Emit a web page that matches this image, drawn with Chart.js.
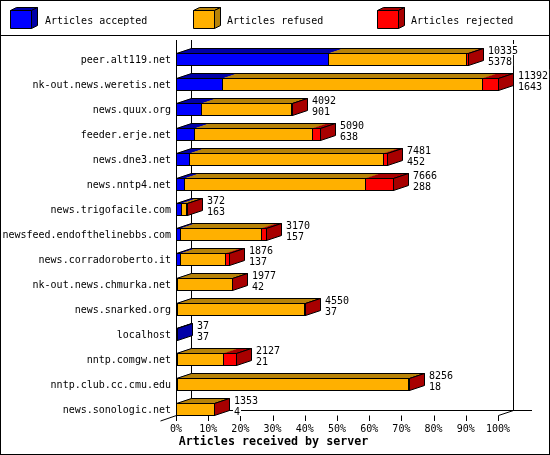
<!DOCTYPE html>
<html>
<head>
<meta charset="utf-8">
<style>
  html, body { margin: 0; padding: 0; background: #fff; }
  canvas { display: block; }
</style>
<script src="https://cdn.jsdelivr.net/npm/chart.js@4"></script>
</head>
<body>
<canvas id="graphCanvas" width="550" height="455"></canvas>
<script>
// Data
const servers = ['peer.alt119.net', 'nk-out.news.weretis.net', 'news.quux.org', 'feeder.erje.net',
  'news.dne3.net', 'news.nntp4.net', 'news.trigofacile.com', 'newsfeed.endofthelinebbs.com',
  'news.corradoroberto.it', 'nk-out.news.chmurka.net', 'news.snarked.org', 'localhost',
  'nntp.comgw.net', 'nntp.club.cc.cmu.edu', 'news.sonologic.net'];
const totals   = [10335, 11392, 4092, 5090, 7481, 7666, 372, 3170, 1876, 1977, 4550, 37, 2127, 8256, 1353];
const accepted = [5378, 1643, 901, 638, 452, 288, 163, 157, 137, 42, 37, 37, 21, 18, 4];
const refused  = [4887, 9179, 3156, 4168, 6889, 6383, 204, 2838, 1599, 1930, 4503, 0, 1646, 8203, 1340];
const rejected = [70, 570, 35, 284, 140, 995, 5, 175, 140, 5, 10, 0, 460, 35, 9];
const tickLabels = ['0%', '10%', '20%', '30%', '40%', '50%', '60%', '70%', '80%', '90%', '100%'];
const tickPercents = [0, 10, 20, 30, 40, 50, 60, 70, 80, 90, 100];
const seriesNames = ['Articles accepted', 'Articles refused', 'Articles rejected'];
const axisTitle = 'Articles received by server';
const maxArticles = 11392;

// Colours and 3D depth
const frontColors = ['#0000ff', '#ffb000', '#ff0000'];
const sideColors = ['#0000a8', '#b88308', '#a80000'];
const DX = 15, DY = 5;
const monoFont = '"DejaVu Sans Mono", "Liberation Mono", monospace';

function line(ctx, x1, y1, x2, y2) {
  ctx.beginPath();
  ctx.moveTo(x1, y1);
  ctx.lineTo(x2, y2);
  ctx.stroke();
}

function poly(ctx, pts, fill, stroke) {
  ctx.beginPath();
  pts.forEach((p, i) => i ? ctx.lineTo(p[0], p[1]) : ctx.moveTo(p[0], p[1]));
  ctx.closePath();
  if (fill) { ctx.fillStyle = fill; ctx.fill(); }
  if (stroke) { ctx.strokeStyle = '#000'; ctx.stroke(); }
}

function drawLegend(ctx) {
  const boxX = [10, 193, 377], textX = [45, 227, 411];
  seriesNames.forEach((name, i) => {
    const x = boxX[i] + 0.5, y = 10.5, w = 21, h = 18, dx = 6, dy = 3;
    poly(ctx, [[x, y], [x + w, y], [x + w, y + h], [x, y + h]], frontColors[i], true);
    poly(ctx, [[x, y], [x + dx, y - dy], [x + w + dx, y - dy], [x + w, y]], sideColors[i], true);
    poly(ctx, [[x + w, y], [x + w + dx, y - dy], [x + w + dx, y + h - dy], [x + w, y + h]], sideColors[i], true);
    ctx.fillStyle = '#000';
    ctx.font = '10px ' + monoFont;
    ctx.textAlign = 'left';
    ctx.textBaseline = 'middle';
    ctx.fillText(name, textX[i], 21);
  });
}

const bars3d = {
  id: 'bars3d',
  beforeDatasetsDraw(chart) {
    const ctx = chart.ctx;
    const xs = chart.scales.x;
    const metas = chart.getSortedVisibleDatasetMetas();

    // keep the bars on whole pixels like the original
    metas.forEach(meta => meta.data.forEach(bar => {
      bar.x = Math.round(bar.x);
      bar.base = Math.round(bar.base);
    }));

    ctx.save();
    ctx.lineWidth = 1;
    ctx.strokeStyle = '#000';

    // frame and legend rule
    ctx.strokeRect(0.5, 0.5, 549, 454);
    line(ctx, 0, 35.5, 550, 35.5);
    drawLegend(ctx);

    // axis title, centred on the whole image rather than the plot
    ctx.fillStyle = '#000';
    ctx.font = 'bold 11.67px ' + monoFont;
    ctx.textAlign = 'center';
    ctx.textBaseline = 'middle';
    ctx.fillText(axisTitle, 273.5, 442);

    // axes of the 3D box
    const left = Math.round(xs.getPixelForValue(0)) + 0.5;
    const right = Math.round(xs.getPixelForValue(maxArticles)) + 0.5;
    line(ctx, left, 40, left, 416);
    line(ctx, left + DX, 40, left + DX, 410.5);
    line(ctx, right + DX, 40, right + DX, 410.5);
    line(ctx, left + DX, 410.5, 532, 410.5);
    line(ctx, left - 16, 421, left, 415.5);
    line(ctx, left, 415.5, left + DX, 410.5);
    line(ctx, right, 415.5, right + DX, 410.5);
    tickPercents.forEach(p => {
      const x = Math.round(xs.getPixelForValue(p * maxArticles / 100)) + 0.5;
      line(ctx, x, 415.5, x, 421);
    });

    // top and right faces, one bar at a time
    servers.forEach((name, i) => {
      const first = metas[0].data[i];
      const top = first.y - first.height / 2 + 0.5;
      const bottom = first.y + first.height / 2 - 0.5;
      let end = first.base, lastSeries = 0;
      metas.forEach((meta, s) => {
        const bar = meta.data[i];
        if (meta.controller.getDataset().data[i] <= 0) return;
        lastSeries = s;
        end = Math.max(end, bar.x);
        if (bar.x <= bar.base) return;
        poly(ctx, [[bar.base, top], [bar.x + 1, top], [bar.x + 1 + DX, top - DY], [bar.base + DX, top - DY]], sideColors[s], false);
      });
      const ex = end + 0.5, bx = first.base + 0.5;
      poly(ctx, [[bx, top], [ex, top], [ex + DX, top - DY], [bx + DX, top - DY]], null, true);
      poly(ctx, [[ex, top], [ex + DX, top - DY], [ex + DX, bottom - DY], [ex, bottom]], sideColors[lastSeries], true);
    });
    ctx.restore();
  },
  afterDatasetsDraw(chart) {
    const ctx = chart.ctx;
    const metas = chart.getSortedVisibleDatasetMetas();
    ctx.save();
    ctx.lineWidth = 1;
    ctx.strokeStyle = '#000';
    ctx.font = '10px ' + monoFont;
    ctx.textAlign = 'left';
    ctx.textBaseline = 'middle';
    servers.forEach((name, i) => {
      // black outline of every front segment, neighbours share a line
      metas.forEach(meta => {
        const bar = meta.data[i];
        if (bar.x <= bar.base) return;
        ctx.strokeRect(bar.base + 0.5, bar.y - bar.height / 2 + 0.5, bar.x - bar.base, bar.height - 1);
      });

      // the two numbers beside each bar, on a white patch
      const end = Math.max(...metas.map(meta => meta.data[i].x));
      const x = end + DX + 5;
      const y = metas[0].data[i].y;
      [[totals[i], y - 9.5], [accepted[i], y + 1.5]].forEach(([value, ly]) => {
        const text = String(value);
        ctx.fillStyle = '#fff';
        ctx.fillRect(x - 1, Math.round(ly) - 6, ctx.measureText(text).width + 2, 11);
        ctx.fillStyle = '#000';
        ctx.fillText(text, x, ly + 1);
      });
    });
    ctx.restore();
  }
};

const chart = new Chart(document.getElementById('graphCanvas').getContext('2d'), {
  type: 'bar',
  plugins: [bars3d],
  data: {
    labels: servers,
    datasets: [
      { label: seriesNames[0], data: accepted, backgroundColor: frontColors[0], barThickness: 13, inflateAmount: 0 },
      { label: seriesNames[1], data: refused, backgroundColor: frontColors[1], barThickness: 13, inflateAmount: 0 },
      { label: seriesNames[2], data: rejected, backgroundColor: frontColors[2], barThickness: 13, inflateAmount: 0 }
    ]
  },
  options: {
    indexAxis: 'y',
    responsive: false,
    animation: false,
    events: [],
    layout: { padding: { top: 47, right: 52, left: 0, bottom: 20 } },
    scales: {
      x: {
        type: 'linear',
        stacked: true,
        min: 0,
        max: maxArticles,
        grid: { display: false, drawTicks: false },
        border: { display: false },
        afterBuildTicks: scale => {
          scale.ticks = tickPercents.map(p => ({ value: p * maxArticles / 100 }));
        },
        afterFit: scale => { scale.height = 13; },
        ticks: {
          autoSkip: false,
          maxRotation: 0,
          padding: 1,
          color: '#000',
          font: { family: monoFont, size: 10 },
          callback: (value, i) => tickLabels[i]
        }
      },
      y: {
        stacked: true,
        grid: { display: false, drawTicks: false },
        border: { display: false },
        afterFit: scale => { scale.width = 176; },
        ticks: {
          autoSkip: false,
          padding: 5,
          color: '#000',
          // empty first line with a 2px line height nudges the label 1px down
          font: { family: monoFont, size: 10, lineHeight: '2px' },
          callback: (value, i) => ['', servers[i]]
        }
      }
    },
    plugins: {
      legend: { display: false },
      tooltip: { enabled: false }
    }
  }
});
</script>
</body>
</html>
